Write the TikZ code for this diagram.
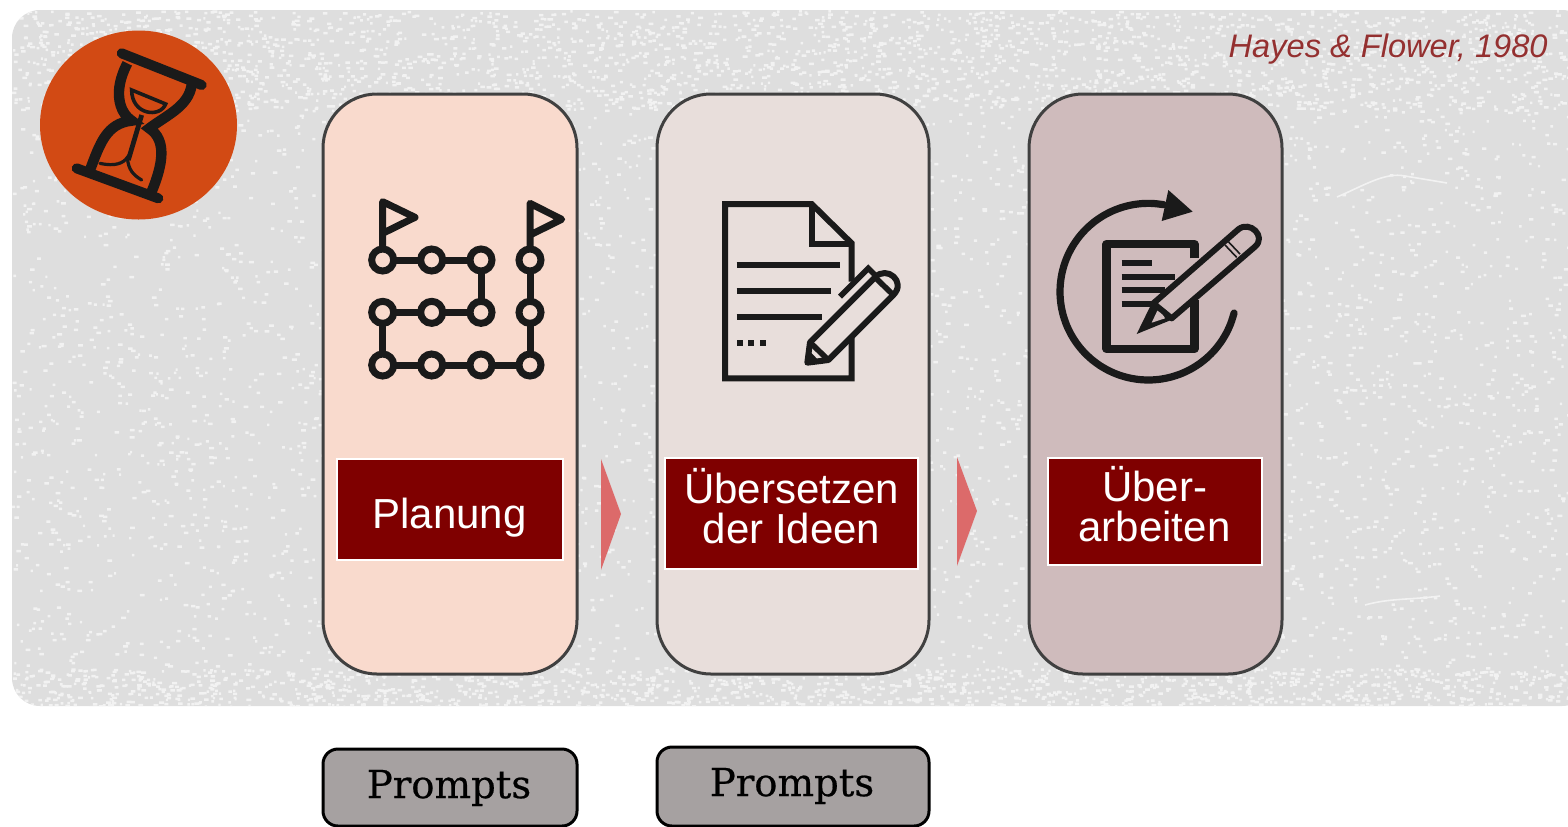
\documentclass[tikz,border=0pt]{standalone}
\usepackage{fontspec}
\setmainfont{Liberation Sans}
\newfontfamily\slabfont[FakeBold=0.5]{DejaVu Serif}
\definecolor{bggray}{HTML}{DEDEDE}
\definecolor{speckle}{HTML}{F2F2F2}
\definecolor{clockorange}{HTML}{D24A14}
\definecolor{colone}{HTML}{F9DACD}
\definecolor{coltwo}{HTML}{E8DEDB}
\definecolor{colthree}{HTML}{CFBBBC}
\definecolor{labelred}{HTML}{7F0000}
\definecolor{arrowred}{HTML}{DC6A6A}
\definecolor{promptgray}{HTML}{A6A1A1}
\definecolor{citered}{HTML}{943030}
\definecolor{iconblack}{HTML}{1A1A1A}
\tikzset{
  phase/.style={draw=black!75,line width=1.5pt,rounded corners=27pt,inner sep=0pt},
  phaselabel/.style={draw=white,line width=1.2pt,fill=labelred,inner sep=0pt},
  phaseword/.style={text=white,inner sep=0pt,align=center,font=\fontsize{21}{20}\selectfont},
  prompt/.style={draw=black,line width=1.5pt,fill=promptgray,rounded corners=7.5pt,inner sep=0pt},
  promptword/.style={inner sep=0pt,font=\slabfont\fontsize{19.3}{20}\selectfont},
  icon/.style={draw=iconblack,line width=3.5pt},
  scratch/.style={draw=speckle,line width=0.8pt},
  zoomed/.style={x=0.16667pt,y=-0.16667pt},
}
\newcommand{\speckles}[3]{%
  \foreach \b in {1,...,#1} {
    \fill[speckle] \foreach \i in {1,...,50} { ({12+rnd*1556},{#2+rnd*#3}) rectangle ++({2+rnd*3},2.5) };
  }}
\begin{document}
\begin{tikzpicture}[x=0.5pt,y=-0.5pt]
\useasboundingbox (0,0) rectangle (1568,826);

% textured background
\begin{scope}
\clip[rounded corners=14pt] (12,10) rectangle (1590,706);
\fill[bggray] (0,0) rectangle (1600,720);
\pgfmathsetseed{1980}
\speckles{100}{10}{696}
\speckles{40}{10}{100}
\speckles{25}{668}{38}
\draw[scratch] (1337,197) .. controls (1365,185) and (1385,172) .. (1405,176) -- (1447,183);
\draw[scratch] (1365,605) .. controls (1390,598) and (1410,600) .. (1440,596);
\end{scope}

% hourglass
\fill[clockorange] (138.5,125) ellipse (98.5 and 94.5);
\begin{scope}[zoomed]
\draw[icon,line width=5pt,line cap=round] (365,160) -- (605,255);
\draw[icon,line width=5pt,line cap=round] (230,505) -- (475,595);
\draw[icon,line width=5.2pt] (382,190) .. controls (340,270) and (355,335) .. (395,362)
  .. controls (320,370) and (300,430) .. (270,510);
\draw[icon,line width=5.2pt] (575,255) .. controls (565,320) and (500,345) .. (448,385)
  .. controls (500,420) and (490,490) .. (455,575);
\draw[draw=iconblack,line width=1.8pt] (395,270) -- (497,312) .. controls (480,355) and (395,345) .. (395,270) -- cycle;
\draw[draw=iconblack,line width=2.4pt] (425,345) -- (385,480);
\draw[draw=iconblack,line width=1.6pt,line cap=round] (300,490) .. controls (345,500) and (370,490) .. (382,472)
  .. controls (385,510) and (400,525) .. (425,540);
\end{scope}

% phases
\node[phase,fill=colone,minimum width=127pt,minimum height=290pt] (planung) at (450,384) {};
\node[phase,fill=coltwo,minimum width=136pt,minimum height=290pt] (uebersetzen) at (793,384) {};
\node[phase,fill=colthree,minimum width=126.5pt,minimum height=290pt] (ueberarbeiten) at (1155.5,384) {};

% path with flags
\begin{scope}[shift={(350,180)},zoomed]
\foreach \px/\py/\qx/\qy in {98/240/393/240, 393/240/393/397, 393/397/98/397, 98/397/98/555, 98/555/540/555, 540/555/540/240}
  \draw[icon] (\px,\py) -- (\qx,\qy);
\draw[icon,line join=round] (98,240) -- (98,65) -- (195,112) -- (98,160);
\draw[icon,line join=round] (540,240) -- (540,70) -- (635,118) -- (540,165);
\foreach \px/\py in {98/240,245/240,393/240,540/240,98/397,245/397,393/397,540/397,98/555,245/555,393/555,540/555}
  \draw[icon,fill=colone] (\px,\py) circle (33);
\end{scope}

% sheet with pencil
\begin{scope}[shift={(700,180)},zoomed]
\draw[icon,line width=3pt] (455,305) -- (455,190) -- (335,72) -- (75,72) -- (75,595) -- (455,595) -- (455,470);
\draw[icon,line width=3pt] (335,72) -- (335,193) -- (455,193);
\draw[icon,line width=2.8pt] (110,255) -- (420,255);
\draw[icon,line width=2.8pt] (110,333) -- (392,333);
\draw[icon,line width=2.8pt] (110,411) -- (366,411);
\foreach \px in {110,145,180}
  \fill[iconblack] (\px,480) rectangle ++(18,18);
\draw[icon,line width=2.8pt] (420,350) -- (505,265) -- (530,290);
\draw[icon,line width=3pt,line join=round] (330,487) -- (525,292) .. controls (560,255) and (620,305) .. (580,345) -- (385,540) -- (322,548) -- cycle;
\draw[icon,line width=2.8pt] (330,487) -- (385,540);
\draw[icon,line width=2.8pt] (525,292) -- (580,345);
\fill[iconblack] (318,552) -- (326,510) -- (360,546) -- cycle;
\end{scope}

% revised sheet
\begin{scope}[shift={(1040,170)},zoomed]
\draw[icon,line width=3.6pt,line cap=round] plot[smooth,domain=80:346,samples=40] ({325+265*cos(\x)},{365-265*sin(\x)});
\fill[iconblack] (385,60) -- (458,125) -- (365,153) -- cycle;
\draw[icon,line width=4.2pt,line join=round] (463,265) -- (463,222) -- (200,222) -- (200,537) -- (463,537) -- (463,390);
\draw[icon,line width=3pt] (245,278) -- (335,278);
\draw[icon,line width=3pt] (245,320) -- (405,320);
\draw[icon,line width=3pt] (245,360) -- (375,360);
\draw[icon,line width=3pt] (245,402) -- (335,402);
\draw[icon,line width=3pt,fill=colthree,line join=round] (340,400) -- (595,178) .. controls (630,150) and (680,200) .. (645,230) -- (395,445) -- cycle;
\draw[draw=iconblack,line width=0.8pt] (555,225) -- (590,262);
\draw[draw=iconblack,line width=0.8pt] (565,215) -- (600,252);
\fill[iconblack] (290,492) -- (335,400) .. controls (365,405) and (385,425) .. (398,448) -- cycle;
\fill[colthree] (335,458) -- (352,422) .. controls (365,430) and (372,438) .. (375,445) -- cycle;
\end{scope}

% phase labels
\node[phaselabel,minimum width=113pt,minimum height=50.5pt] (labelplanung) at (450,509.5) {};
\node[phaselabel,minimum width=126.5pt,minimum height=55.5pt] (labeluebersetzen) at (791.5,513.5) {};
\node[phaselabel,minimum width=107pt,minimum height=53.5pt] (labelueberarbeiten) at (1155,511.5) {};
\node[phaseword] (wordplanung) at (449.5,518) {Planung};
\node[phaseword] (worduebersetzen) at (791.5,506) {Übersetzen\\der Ideen};
\node[phaseword] (wordueberarbeiten) at (1154.5,504) {Über-\\arbeiten};

% triangles between phases
\coordinate (t1a) at (601,459);
\coordinate (t1b) at (621,514);
\coordinate (t1c) at (601,570);
\coordinate (t2a) at (957,457);
\coordinate (t2b) at (977,511);
\coordinate (t2c) at (957,566);
\fill[arrowred] (t1a) -- (t1b) -- (t1c) -- cycle;
\fill[arrowred] (t2a) -- (t2b) -- (t2c) -- cycle;

% prompts
\node[prompt,minimum width=127pt,minimum height=38.5pt] (promptone) at (450,787.5) {};
\node[prompt,minimum width=136pt,minimum height=39.5pt] (prompttwo) at (793,786.5) {};
\node[promptword] (wordone) at (449,788) {Prompts};
\node[promptword] (wordtwo) at (792,786) {Prompts};

\node[anchor=east,text=citered,font=\fontsize{16.3}{18}\selectfont\itshape,inner sep=0pt] (source) at (1548,49) {Hayes \& Flower, 1980};

\end{tikzpicture}
\end{document}
